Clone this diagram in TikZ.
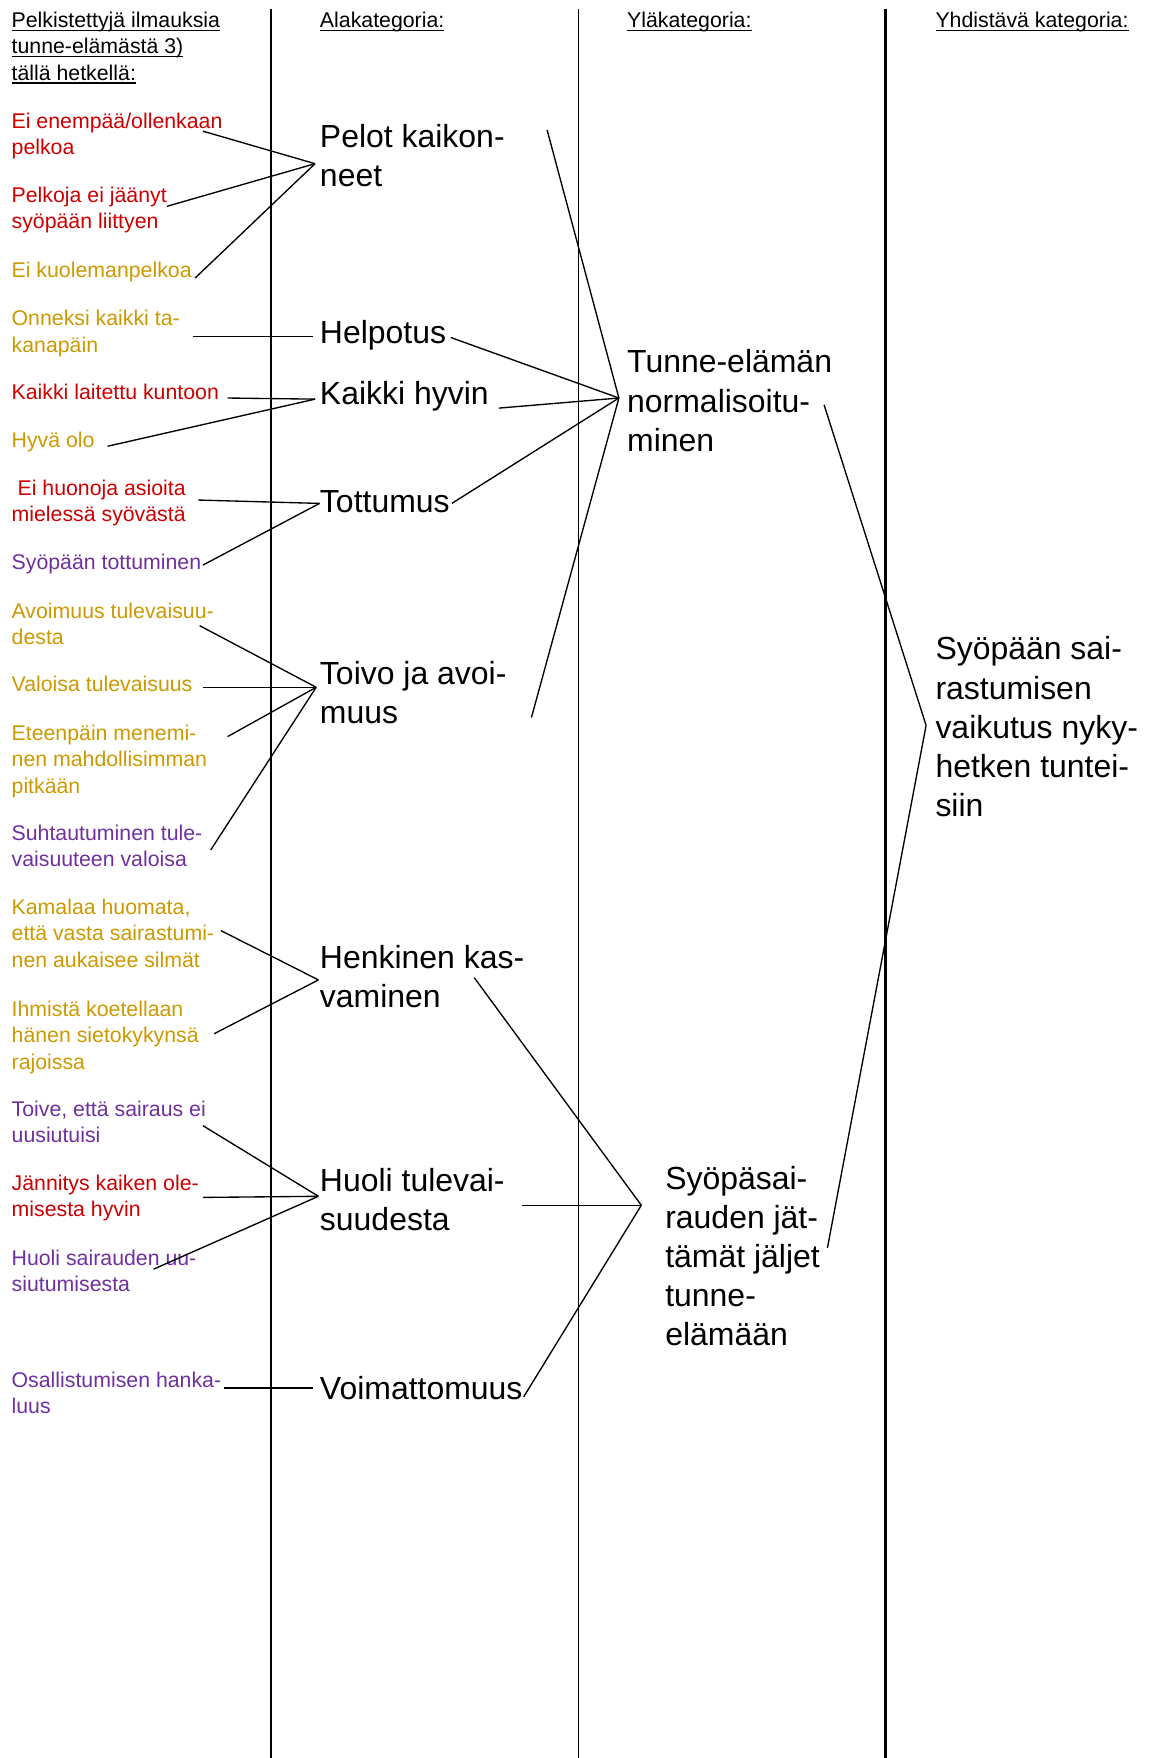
\documentclass[tikz,border=0pt]{standalone}
\usepackage{fontspec}
\setmainfont{Liberation Sans}
\definecolor{pun}{RGB}{204,0,0}
\definecolor{kel}{RGB}{204,153,0}
\definecolor{vio}{RGB}{112,48,160}
\newsavebox\allebox
\newcommand{\alle}[1]{\sbox\allebox{#1}\rlap{\rule[-1.6pt]{\wd\allebox}{0.6pt}}\usebox\allebox}
\tikzset{
  pieni/.style = {anchor = base west, inner sep = 0pt, align = left,
    font = \fontsize{9.5}{11.75}\selectfont},
  iso/.style = {anchor = base west, inner sep = 0pt, align = left,
    font = \fontsize{14.25}{17.5}\selectfont},
  viiva/.style = {line width = 0.6pt}
}
\begin{document}
\begin{tikzpicture}[x = 0.5pt, y = -0.5pt]
    \path[use as bounding box, fill = white] (0,0) rectangle (1025,1568);
    % sarakkeiden rajat
    \draw[line width = 0.8pt] (242,8) -- (242,1568);
    \draw[line width = 0.8pt] (516,8) -- (516,1568);
    \draw[line width = 1.5pt] (790,8) -- (790,1568);
    % otsikot (y = viimeisen rivin perusviiva)
    \node (p0) at (10,71.5) [pieni]{\alle{Pelkistettyjä ilmauksia}\\\alle{tunne-elämästä 3)}\\\alle{tällä hetkellä:}};
    \node (a0) at (285,24.5) [pieni]{\alle{Alakategoria:}};
    \node (y0) at (559,24.5) [pieni]{\alle{Yläkategoria:}};
    \node (z0) at (834,24.5) [pieni]{\alle{Yhdistävä kategoria:}};
    % pelkistetyt ilmaukset
    \node (p1) at (10,138) [pieni, pun]{Ei enempää/ollenkaan\\pelkoa};
    \node (p2) at (10,204) [pieni, pun]{Pelkoja ei jäänyt\\syöpään liittyen};
    \node (p3) at (10,247.5) [pieni, kel]{Ei kuolemanpelkoa};
    \node (p4) at (10,314) [pieni, kel]{Onneksi kaikki ta-\\kanapäin};
    \node (p5) at (10,356.5) [pieni, pun]{Kaikki laitettu kuntoon};
    \node (p6) at (10,399.5) [pieni, kel]{Hyvä olo};
    \node (p7) at (10,465) [pieni, pun]{~Ei huonoja asioita\\mielessä syövästä};
    \node (p8) at (10,507.5) [pieni, vio]{Syöpään tottuminen};
    \node (p9) at (10,575) [pieni, kel]{Avoimuus tulevaisuu-\\desta};
    \node (p10) at (10,616.5) [pieni, kel]{Valoisa tulevaisuus};
    \node (p11) at (10,707.5) [pieni, kel]{Eteenpäin menemi-\\nen mahdollisimman\\pitkään};
    \node (p12) at (10,773) [pieni, vio]{Suhtautuminen tule-\\vaisuuteen valoisa};
    \node (p13) at (10,862.5) [pieni, kel]{Kamalaa huomata,\\että vasta sairastumi-\\nen aukaisee silmät};
    \node (p14) at (10,953.5) [pieni, kel]{Ihmistä koetellaan\\hänen sietokykynsä\\rajoissa};
    \node (p15) at (10,1019) [pieni, vio]{Toive, että sairaus ei\\uusiutuisi};
    \node (p16) at (10,1085) [pieni, pun]{Jännitys kaiken ole-\\misesta hyvin};
    \node (p17) at (10,1152) [pieni, vio]{Huoli sairauden uu-\\siutumisesta};
    \node (p18) at (10,1261) [pieni, vio]{Osallistumisen hanka-\\luus};
    % alakategoriat
    \node (a1) at (285,166.5) [iso]{Pelot kaikon-\\neet};
    \node (a2) at (285,306.5) [iso]{Helpotus};
    \node (a3) at (285,360.5) [iso]{Kaikki hyvin};
    \node (a4) at (285,457.5) [iso]{Tottumus};
    \node (a5) at (285,645.5) [iso]{Toivo ja avoi-\\muus};
    \node (a6) at (285,898.5) [iso]{Henkinen kas-\\vaminen};
    \node (a7) at (285,1097.5) [iso]{Huoli tulevai-\\suudesta};
    \node (a8) at (285,1248.5) [iso]{Voimattomuus};
    % yläkategoriat ja yhdistävä
    \node (y1) at (559,402.5) [iso]{Tunne-elämän\\normalisoitu-\\minen};
    \node (y2) at (593,1200.5) [iso]{Syöpäsai-\\rauden jät-\\tämät jäljet\\tunne-\\elämään};
    \node (z1) at (834,728.5) [iso]{Syöpään sai-\\rastumisen\\vaikutus nyky-\\hetken tuntei-\\siin};
    % viivojen päät
    \coordinate (h1) at (281,146);
    \coordinate (h2) at (279,300);
    \coordinate (h3) at (281,356);
    \coordinate (h4) at (285,449);
    \coordinate (h5) at (282,613);
    \coordinate (h6) at (284,874);
    \coordinate (h7) at (284,1067);
    \coordinate (h8) at (279,1238);
    \coordinate (t1) at (552,355);
    \coordinate (t2) at (572,1075);
    \coordinate (u1) at (826,647);
    \coordinate (p1e) at (181,117);
    \coordinate (p2e) at (149,184);
    \coordinate (p3e) at (174,248);
    \coordinate (p4e) at (172,300);
    \coordinate (p5e) at (203,355);
    \coordinate (p6e) at (96,398);
    \coordinate (p7e) at (177,446);
    \coordinate (p8e) at (181,504);
    \coordinate (p9e) at (178,558);
    \coordinate (p10e) at (181,613);
    \coordinate (p11e) at (203,657);
    \coordinate (p12e) at (188,758);
    \coordinate (p13e) at (197,830);
    \coordinate (p14e) at (191,922);
    \coordinate (p15e) at (181,1004);
    \coordinate (p16e) at (181,1068);
    \coordinate (p17e) at (137,1132);
    \coordinate (p18e) at (200,1238);
    \coordinate (a1e) at (488,116);
    \coordinate (a2e) at (402,301);
    \coordinate (a3e) at (445,364);
    \coordinate (a4e) at (403,449);
    \coordinate (a5e) at (474,640);
    \coordinate (a6e) at (423,872);
    \coordinate (a7e) at (466,1075);
    \coordinate (a8e) at (467,1246);
    \coordinate (y1e) at (735,361);
    \coordinate (y2e) at (738,1113);
    % ilmauksista alakategorioihin
    \draw[viiva] (p1e) -- (h1);
    \draw[viiva] (p2e) -- (h1);
    \draw[viiva] (p3e) -- (h1);
    \draw[viiva] (p4e) -- (h2);
    \draw[viiva] (p5e) -- (h3);
    \draw[viiva] (p6e) -- (h3);
    \draw[viiva] (p7e) -- (h4);
    \draw[viiva] (p8e) -- (h4);
    \draw[viiva] (p9e) -- (h5);
    \draw[viiva] (p10e) -- (h5);
    \draw[viiva] (p11e) -- (h5);
    \draw[viiva] (p12e) -- (h5);
    \draw[viiva] (p13e) -- (h6);
    \draw[viiva] (p14e) -- (h6);
    \draw[viiva] (p15e) -- (h7);
    \draw[viiva] (p16e) -- (h7);
    \draw[viiva] (p17e) -- (h7);
    \draw[viiva] (p18e) -- (h8);
    % alakategorioista yläkategorioihin
    \draw[viiva] (a1e) -- (t1);
    \draw[viiva] (a2e) -- (t1);
    \draw[viiva] (a3e) -- (t1);
    \draw[viiva] (a4e) -- (t1);
    \draw[viiva] (a5e) -- (t1);
    \draw[viiva] (a6e) -- (t2);
    \draw[viiva] (a7e) -- (t2);
    \draw[viiva] (a8e) -- (t2);
    % yhdistävä kategoria
    \draw[viiva] (y1e) -- (u1);
    \draw[viiva] (y2e) -- (u1);
\end{tikzpicture}
\end{document}
